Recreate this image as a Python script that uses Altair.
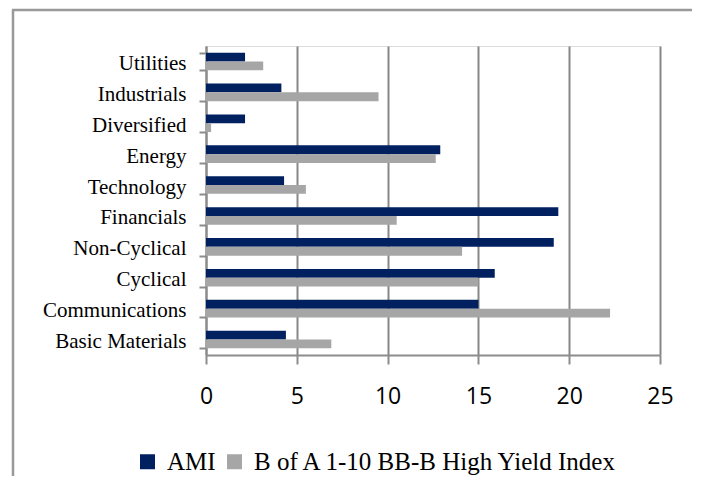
import altair as alt
import pandas as pd

categories = ["Utilities", "Industrials", "Diversified", "Energy", "Technology",
              "Financials", "Non-Cyclical", "Cyclical", "Communications", "Basic Materials"]
series_names = ["AMI", "B of A 1-10 BB-B High Yield Index"]
ami = [2.15, 4.15, 2.15, 12.9, 4.3, 19.4, 19.15, 15.9, 15.0, 4.4]
bofa = [3.15, 9.5, 0.28, 12.65, 5.5, 10.5, 14.1, 15.0, 22.25, 6.9]
x_ticks = [0, 5, 10, 15, 20, 25]
colors = ["#002060", "#A6A6A6"]

rows = []
for c, a, b in zip(categories, ami, bofa):
    rows.append({"Sector": c, "Series": series_names[0], "Value": a})
    rows.append({"Sector": c, "Series": series_names[1], "Value": b})
df = pd.DataFrame(rows)

bars = alt.Chart(df).mark_bar().encode(
    y=alt.Y("Sector:N", sort=categories,
            scale=alt.Scale(paddingInner=0.43, paddingOuter=0.215),
            axis=alt.Axis(title=None, labelFont="Liberation Serif", labelFontSize=21,
                          labelColor="#000000", labelPadding=13, tickSize=7,
                          tickBand="extent", tickColor="#8c8c8c", tickWidth=2,
                          domainColor="#8c8c8c", domainWidth=2, labelOffset=2,
                          labelExpr="indexof(['Technology','Cyclical','Communications'], datum.value) >= 0 ? datum.value + '\u00a0' : datum.value")),
    x=alt.X("Value:Q", scale=alt.Scale(domain=[0, 25], nice=False),
            axis=alt.Axis(title=None, values=x_ticks, labelFont="Open Sans",
                          labelFontSize=23, labelColor="#000000", labelPadding=21,
                          labelFlush=False,
                          tickSize=9, tickColor="#8c8c8c", tickWidth=2,
                          domainColor="#8c8c8c", domainWidth=2,
                          grid=True, gridColor="#888888", gridWidth=2)),
    yOffset=alt.YOffset("Series:N", sort=series_names),
    color=alt.Color("Series:N", sort=series_names,
                    scale=alt.Scale(domain=series_names, range=colors),
                    legend=alt.Legend(title=None, orient="none", legendX=-71, legendY=403,
                                      direction="horizontal", symbolType="square",
                                      symbolSize=225, symbolStrokeWidth=0,
                                      labelFont="Liberation Serif", labelFontSize=25,
                                      labelColor="#000000", labelOffset=7,
                                      columnPadding=6, labelLimit=500)),
)

frame = pd.DataFrame({"k": [0]})
left_border = alt.Chart(frame).mark_rule(color="#999999", strokeWidth=2.5).encode(
    x=alt.value(-193), y=alt.value(-36), y2=alt.value(430))
top_border = alt.Chart(frame).mark_rule(color="#999999", strokeWidth=2.5).encode(
    x=alt.value(-194), x2=alt.value(486), y=alt.value(-36))

chart = alt.layer(left_border, top_border, bars).properties(
    width=454, height=309,
    autosize=alt.AutoSizeParams(type="none"),
    padding={"left": 198, "top": 38, "right": 32, "bottom": 126},
).configure_view(stroke=None).configure(background="#ffffff")

chart.save("out.html", embed_options={"renderer": "svg", "actions": False})
